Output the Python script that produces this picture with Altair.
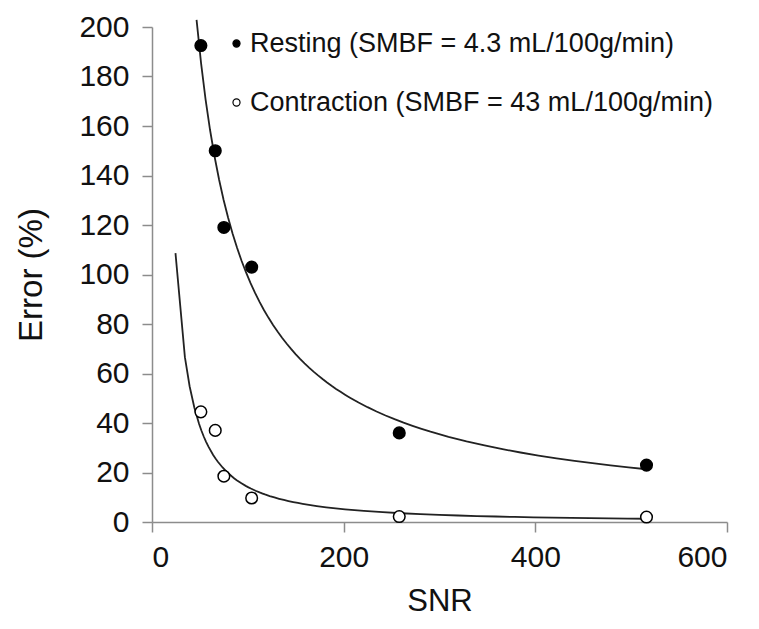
import altair as alt
import pandas as pd

# Data
snr = [51, 66, 75, 104, 258, 516]
resting = [192.5, 150, 119, 103, 36, 23]
contraction = [44.5, 37, 18.5, 9.7, 2.2, 2.0]
labels = ["Resting (SMBF = 4.3 mL/100g/min)", "Contraction (SMBF = 43 mL/100g/min)"]
x_ticks = [0, 200, 400, 600]
y_ticks = [0, 20, 40, 60, 80, 100, 120, 140, 160, 180, 200]
rest_extent = [46.5, 516]
contr_extent = [24.5, 516]

df = pd.DataFrame({
    "SNR": snr + snr,
    "Error": resting + contraction,
    "series": [labels[0]] * len(snr) + [labels[1]] * len(snr),
})

FONT = "Liberation Sans"

x = alt.X("SNR:Q", scale=alt.Scale(domain=[0, 600], nice=False),
          axis=alt.Axis(values=x_ticks, title="SNR", titlePadding=14, titleFontSize=31))
y = alt.Y("Error:Q", scale=alt.Scale(domain=[0, 200], nice=False),
          axis=alt.Axis(values=y_ticks, title="Error (%)", titlePadding=30, titleFontSize=33,
                        labelPadding=13))

base = alt.Chart(df)

fit_rest = (
    base.transform_filter(alt.datum.series == labels[0])
    .transform_regression("SNR", "Error", method="pow", extent=rest_extent)
    .mark_line(color="#222222", strokeWidth=1.8, clip=False)
    .encode(x=x, y=y)
)
fit_con = (
    base.transform_filter(alt.datum.series == labels[1])
    .transform_regression("SNR", "Error", method="pow", extent=contr_extent)
    .mark_line(color="#222222", strokeWidth=1.8, clip=False)
    .encode(x=x, y=y)
)

points = base.mark_circle(size=135, stroke="black", strokeWidth=1.5, opacity=1).encode(
    x=x,
    y=y,
    fill=alt.Fill(
        "series:N",
        scale=alt.Scale(domain=labels, range=["black", "white"]),
        legend=alt.Legend(
            title=None, orient="none", legendX=71, legendY=3,
            symbolSize=50, symbolType="circle", symbolStrokeColor="black",
            symbolStrokeWidth=1.2, symbolOpacity=1,
            labelFontSize=27, labelFont=FONT, labelColor="#111111",
            rowPadding=31, labelOffset=0, labelLimit=0, padding=0,
        ),
    ),
)

chart = (
    alt.layer(fit_rest, fit_con, points)
    .properties(
        width=575, height=495,
        autosize=alt.AutoSizeParams(type="none"),
        padding={"left": 144, "top": 19, "right": 24, "bottom": 100},
    )
    .configure_view(stroke=None)
    .configure_axis(
        grid=False,
        domainColor="#8c8c8c", tickColor="#8c8c8c", domainWidth=1.5, tickWidth=1.5,
        tickSize=10,
        labelFont=FONT, labelFontSize=30, labelColor="#111111", labelPadding=10,
        titleFont=FONT, titleFontWeight="normal", titleColor="#111111",
    )
)

chart.save("out.html", embed_options={"renderer": "svg", "actions": False})
